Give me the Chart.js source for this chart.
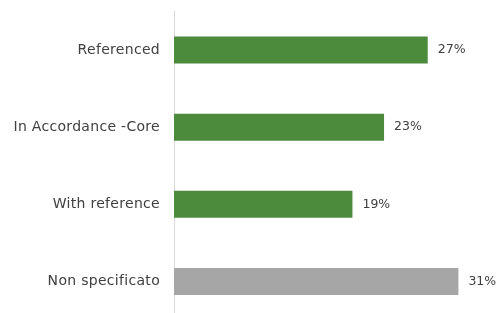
<!DOCTYPE html>
<html>
<head>
<meta charset="utf-8">
<script src="https://cdn.jsdelivr.net/npm/chart.js@4"></script>
<style>
  html, body { margin: 0; padding: 0; background: #fff; overflow: hidden; }
  canvas { display: block; }
</style>
</head>
<body>
<canvas id="chart" width="496" height="320"></canvas>
<script>
// data
const categories = ['Referenced', 'In Accordance -Core', 'With reference', 'Non specificato'];
const shares = [27.3, 22.6, 19.2, 30.6];
const barColors = ['#4c8a3c', '#4c8a3c', '#4c8a3c', '#a6a6a6'];

const FONT = '"DejaVu Sans", sans-serif';

// wider tracking for the category labels (the original font is a wide geometric one)
const tracking = {
    id: 'tracking',
    beforeDraw(chart) { chart.ctx.letterSpacing = '0.3px'; }
};

// value labels to the right of each bar
const valueLabels = {
    id: 'valueLabels',
    afterDatasetsDraw(chart) {
        const ctx = chart.ctx;
        const meta = chart.getDatasetMeta(0);
        ctx.save();
        ctx.letterSpacing = '0px';
        ctx.font = '12.5px ' + FONT;
        ctx.fillStyle = '#404040';
        ctx.textBaseline = 'middle';
        ctx.textAlign = 'left';
        meta.data.forEach((bar, i) => {
            ctx.fillText(Math.round(shares[i]) + '%', bar.x + 10, bar.y);
        });
        ctx.restore();
    }
};

new Chart(document.getElementById('chart'), {
    type: 'bar',
    data: {
        labels: categories,
        datasets: [{
            data: shares,
            backgroundColor: barColors,
            barPercentage: 0.35,
            categoryPercentage: 1
        }]
    },
    options: {
        indexAxis: 'y',
        responsive: false,
        animation: false,
        layout: { padding: { top: 11.5, right: 6, bottom: 0, left: 0 } },
        plugins: { legend: { display: false }, tooltip: { enabled: false } },
        scales: {
            x: { display: false, min: 0, max: 34 },
            y: {
                grid: { display: false, drawTicks: false },
                border: { color: '#d9d9d9', width: 1 },
                ticks: {
                    color: '#404040',
                    padding: 14,
                    font: { family: FONT, size: 14 }
                },
                afterFit(scale) {
                    scale.width = 174;
                    scale.paddingTop = 0;
                    scale.paddingBottom = 0;
                }
            }
        }
    },
    plugins: [tracking, valueLabels]
});
</script>
</body>
</html>
